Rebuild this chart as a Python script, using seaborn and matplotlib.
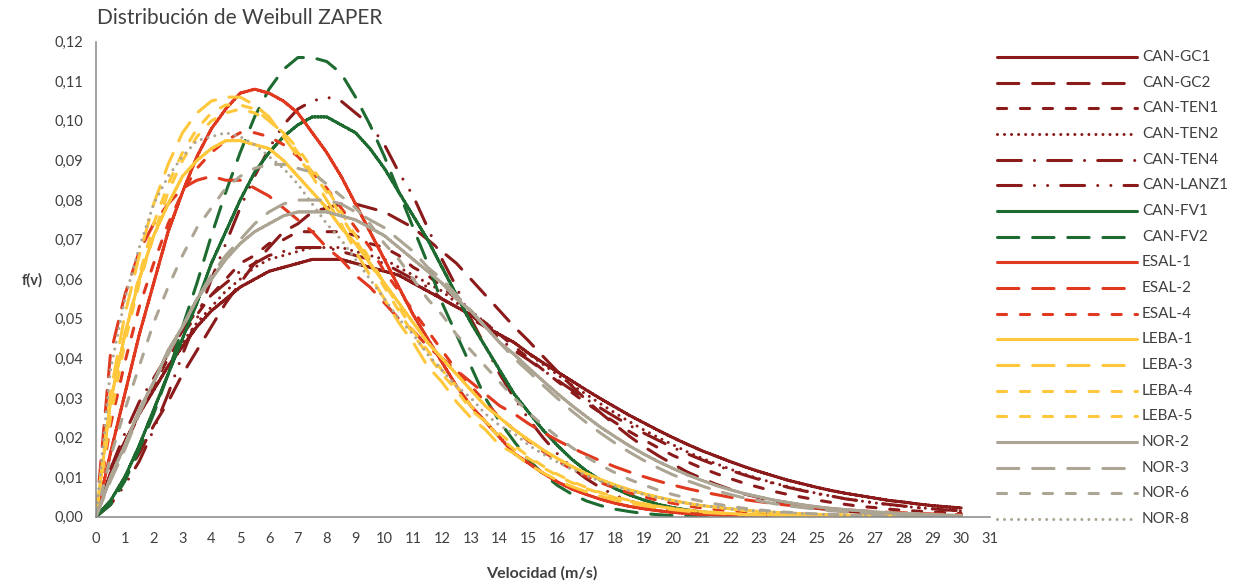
import numpy as np
import pandas as pd
import matplotlib
matplotlib.use("Agg")
import matplotlib.pyplot as plt
from matplotlib.lines import Line2D
import seaborn as sns

# Wind speed grid (m/s) and Weibull density per site, in ten-thousandths (f(v) * 10000)
speed = np.arange(0, 30.5, 0.5)

can_gc1 = [0, 110, 190, 260, 320, 380, 430, 480, 520, 550, 580, 600, 620, 630, 640, 650, 650, 650, 640, 630, 620, 610, 590, 570, 550, 530, 510, 480, 460, 440,
           413, 389, 366, 343, 320, 298, 277, 256, 237, 218, 200, 183, 167, 153, 139, 126, 114, 103, 92, 83, 74, 66, 59, 53, 47, 41, 37, 32, 28, 25, 22]
can_gc2 = [0, 40, 100, 160, 230, 290, 360, 420, 480, 540, 590, 640, 680, 720, 740, 770, 780, 790, 790, 780, 770, 750, 730, 700, 670, 640, 600, 560, 520, 480,
           444, 405, 367, 330, 295, 262, 232, 203, 177, 154, 133, 113, 97, 82, 69, 57, 48, 39, 32, 26, 21, 17, 14, 11, 9, 7, 5, 4, 3, 2, 2]
can_ten1 = [0, 100, 180, 260, 330, 400, 460, 510, 560, 600, 640, 660, 690, 700, 720, 720, 720, 720, 710, 690, 680, 660, 630, 610, 580, 550, 520, 490, 460, 430,
            400, 371, 342, 314, 287, 262, 238, 215, 194, 174, 155, 139, 123, 109, 96, 84, 74, 64, 56, 49, 42, 36, 31, 26, 23, 19, 16, 14, 12, 10, 8]
can_ten2 = [0, 100, 180, 260, 320, 380, 440, 490, 530, 570, 600, 630, 650, 660, 670, 680, 680, 680, 670, 660, 650, 630, 610, 590, 570, 540, 520, 490, 460, 440,
            411, 385, 359, 333, 309, 285, 262, 240, 219, 200, 182, 164, 148, 134, 120, 107, 96, 85, 76, 67, 59, 52, 45, 40, 35, 30, 26, 23, 20, 17, 14]
can_ten4 = [0, 120, 210, 290, 350, 410, 470, 520, 560, 590, 620, 640, 660, 670, 680, 680, 680, 670, 660, 650, 640, 620, 600, 580, 550, 530, 500, 480, 450, 420,
            396, 370, 345, 320, 297, 274, 252, 231, 211, 193, 175, 159, 144, 130, 117, 105, 94, 84, 74, 66, 58, 52, 45, 40, 35, 31, 27, 23, 20, 17, 15]
can_lanz1 = [0, 30, 80, 140, 220, 310, 410, 500, 600, 690, 780, 860, 930, 990, 1030, 1050, 1060, 1050, 1020, 990, 940, 870, 810, 730, 650, 580, 500, 430, 360, 300,
             247, 200, 159, 124, 96, 73, 54, 40, 29, 21, 14, 10, 7, 4, 3, 2, 1, 1, 0, 0, 0, 0, 0, 0, 0, 0, 0, 0, 0, 0, 0]
can_fv1 = [0, 40, 100, 180, 270, 360, 450, 540, 640, 720, 800, 870, 920, 960, 990, 1010, 1010, 990, 970, 930, 880, 820, 760, 700, 630, 560, 490, 430, 370, 310,
           264, 219, 180, 145, 116, 92, 71, 55, 42, 31, 23, 17, 12, 9, 6, 4, 3, 2, 1, 1, 1, 0, 0, 0, 0, 0, 0, 0, 0, 0, 0]
can_fv2 = [0, 30, 90, 170, 260, 360, 480, 590, 710, 820, 920, 1010, 1080, 1130, 1160, 1160, 1150, 1120, 1060, 990, 910, 820, 730, 640, 540, 460, 380, 300, 240, 190,
           144, 108, 79, 57, 40, 28, 19, 13, 8, 5, 3, 2, 1, 1, 0, 0, 0, 0, 0, 0, 0, 0, 0, 0, 0, 0, 0, 0, 0, 0, 0]
esal_1 = [0, 160, 310, 460, 590, 720, 820, 910, 980, 1030, 1070, 1080, 1070, 1050, 1020, 970, 920, 860, 790, 720, 650, 580, 510, 450, 390, 330, 280, 240, 200, 160,
          135, 110, 88, 70, 56, 44, 34, 26, 20, 15, 11, 8, 6, 5, 3, 2, 2, 1, 1, 1, 0, 0, 0, 0, 0, 0, 0, 0, 0, 0, 0]
esal_2 = [0, 410, 560, 670, 740, 790, 830, 850, 860, 850, 850, 830, 810, 780, 750, 720, 680, 650, 610, 580, 540, 500, 470, 430, 400, 370, 340, 310, 280, 260,
          235, 213, 193, 174, 157, 141, 126, 113, 101, 90, 80, 71, 63, 56, 49, 43, 38, 33, 29, 26, 22, 20, 17, 15, 13, 11, 10, 8, 7, 6, 5]
esal_4 = [0, 230, 390, 530, 640, 740, 820, 880, 920, 950, 970, 970, 960, 940, 910, 870, 830, 780, 730, 680, 620, 570, 520, 470, 420, 370, 330, 290, 250, 220,
          191, 165, 141, 120, 102, 86, 72, 60, 50, 41, 34, 27, 22, 18, 15, 12, 9, 7, 6, 5, 4, 3, 2, 2, 1, 1, 1, 1, 0, 0, 0]
leba_1 = [0, 290, 460, 600, 710, 790, 860, 900, 930, 950, 950, 940, 930, 900, 860, 820, 780, 730, 690, 640, 590, 540, 490, 440, 400, 360, 320, 280, 250, 220,
          194, 169, 147, 127, 109, 94, 80, 68, 58, 49, 41, 34, 28, 24, 20, 16, 13, 11, 9, 7, 6, 5, 4, 3, 2, 2, 2, 1, 1, 1, 1]
leba_3 = [0, 310, 510, 660, 790, 890, 970, 1020, 1050, 1060, 1060, 1040, 1010, 960, 910, 860, 800, 740, 670, 610, 550, 490, 440, 380, 340, 290, 250, 220, 180, 160,
          132, 111, 92, 76, 63, 52, 42, 34, 28, 22, 18, 14, 11, 9, 7, 5, 4, 3, 2, 2, 1, 1, 1, 1, 0, 0, 0, 0, 0, 0, 0]
leba_4 = [0, 250, 440, 590, 710, 820, 900, 960, 1000, 1020, 1030, 1020, 1000, 970, 930, 880, 830, 770, 710, 650, 590, 530, 470, 420, 370, 330, 280, 240, 210, 180,
          152, 128, 107, 89, 74, 61, 50, 41, 33, 26, 21, 17, 13, 11, 8, 6, 5, 4, 3, 2, 2, 1, 1, 1, 1, 0, 0, 0, 0, 0, 0]
leba_5 = [0, 270, 460, 610, 740, 840, 920, 980, 1020, 1040, 1040, 1030, 1000, 970, 920, 870, 820, 760, 700, 640, 580, 520, 460, 410, 360, 320, 270, 240, 200, 170,
          147, 124, 104, 86, 71, 59, 48, 39, 32, 26, 21, 16, 13, 10, 8, 6, 5, 4, 3, 2, 2, 1, 1, 1, 1, 0, 0, 0, 0, 0, 0]
nor_2 = [0, 100, 180, 270, 340, 420, 480, 550, 600, 650, 690, 720, 740, 760, 770, 770, 770, 760, 750, 730, 710, 680, 650, 620, 590, 550, 520, 480, 440, 410,
         376, 343, 311, 281, 253, 226, 202, 179, 158, 139, 122, 106, 92, 79, 68, 58, 50, 42, 36, 30, 25, 21, 18, 15, 12, 10, 8, 7, 5, 4, 3]
nor_3 = [0, 90, 170, 260, 340, 410, 480, 550, 610, 660, 700, 740, 770, 790, 800, 800, 800, 790, 770, 750, 730, 700, 670, 630, 600, 560, 520, 480, 440, 400,
         367, 332, 299, 267, 238, 211, 186, 163, 142, 123, 106, 91, 78, 66, 56, 47, 40, 33, 27, 23, 19, 15, 12, 10, 8, 7, 5, 4, 3, 3, 2]
nor_6 = [0, 150, 270, 380, 490, 580, 660, 730, 780, 830, 860, 880, 890, 890, 880, 870, 840, 810, 780, 740, 690, 650, 600, 550, 510, 460, 420, 380, 340, 300,
         263, 231, 202, 175, 151, 130, 111, 94, 80, 67, 56, 47, 39, 32, 26, 21, 17, 14, 11, 9, 7, 6, 4, 3, 3, 2, 2, 1, 1, 1, 1]
nor_8 = [0, 370, 550, 680, 790, 860, 910, 950, 960, 970, 960, 940, 910, 880, 840, 790, 740, 700, 650, 600, 550, 500, 460, 410, 370, 330, 300, 260, 230, 210,
         181, 158, 138, 120, 104, 89, 77, 66, 56, 48, 40, 34, 29, 24, 20, 17, 14, 12, 10, 8, 7, 5, 4, 4, 3, 2, 2, 2, 1, 1, 1]

series = ["CAN-GC1", "CAN-GC2", "CAN-TEN1", "CAN-TEN2", "CAN-TEN4", "CAN-LANZ1",
          "CAN-FV1", "CAN-FV2", "ESAL-1", "ESAL-2", "ESAL-4",
          "LEBA-1", "LEBA-3", "LEBA-4", "LEBA-5",
          "NOR-2", "NOR-3", "NOR-6", "NOR-8"]
values = [can_gc1, can_gc2, can_ten1, can_ten2, can_ten4, can_lanz1, can_fv1, can_fv2,
          esal_1, esal_2, esal_4, leba_1, leba_3, leba_4, leba_5, nor_2, nor_3, nor_6, nor_8]

yticks = [0.00, 0.01, 0.02, 0.03, 0.04, 0.05, 0.06, 0.07, 0.08, 0.09, 0.10, 0.11, 0.12]
ytick_labels = ["0,00", "0,01", "0,02", "0,03", "0,04", "0,05", "0,06",
                "0,07", "0,08", "0,09", "0,10", "0,11", "0,12"]
xticks = list(range(0, 32))

# Colours by region, line pattern by station (dash units are multiples of line width)
DR, GR, RD, YE, GY = "#8B1A1A", "#1D6B30", "#E0391F", "#FFC73B", "#ADA593"
colors = [DR, DR, DR, DR, DR, DR, GR, GR, RD, RD, RD, YE, YE, YE, YE, GY, GY, GY, GY]
SOLID, LONG, MED, DOT = (1, 0), (7, 4.5), (3, 4.5), (0.001, 2.3)
DDOT, DDDOT = (7.8, 4.3, 0.001, 4.3), (7.8, 4.3, 0.001, 4.3, 0.001, 4.3)
styles = [SOLID, LONG, MED, DOT, DDOT, DDDOT, SOLID, LONG, SOLID, LONG, MED,
          SOLID, LONG, MED, MED, SOLID, LONG, MED, DOT]

rows = []
for name, vals in zip(series, values):
    for s, val in zip(speed, vals):
        rows.append((name, s, val / 10000))
df = pd.DataFrame(rows, columns=["serie", "v", "f"])

sns.set_theme(style="white")
plt.rcParams["font.family"] = ["Lato", "DejaVu Sans"]
TXT = "#404040"
AX = "#868686"
W, H = 1234, 583

fig = plt.figure(figsize=(W / 100, H / 100), dpi=100)
ax = fig.add_axes([96 / W, 1 - 516.7 / H, (990 - 96) / W, 475 / H])

LW = 2.2
sns.lineplot(data=df, x="v", y="f", hue="serie", style="serie",
             palette=dict(zip(series, colors)), dashes=dict(zip(series, styles)),
             linewidth=LW, estimator=None, sort=False, legend=False, ax=ax)
for line in ax.lines:
    line.set_dash_capstyle("round")
    line.set_solid_capstyle("round")
    line.set_solid_joinstyle("round")

ax.set_xlim(0, 31)
ax.set_ylim(0, 0.12)
ax.set_xticks(xticks)
ax.set_xticklabels([str(t) for t in xticks])
ax.set_yticks(yticks)
ax.set_yticklabels(ytick_labels)
ax.set_xlabel("")
ax.set_ylabel("")
for side in ["top", "right"]:
    ax.spines[side].set_visible(False)
for side in ["left", "bottom"]:
    ax.spines[side].set_color(AX)
    ax.spines[side].set_linewidth(1.1)
ax.tick_params(axis="both", direction="out", length=5, width=1.1, color=AX,
               labelsize=10.5, labelcolor=TXT, pad=4)
ax.tick_params(axis="x", pad=6)

# Legend column on the right: one line sample and label per station
for i, (name, col, st) in enumerate(zip(series, colors, styles)):
    yc = 1 - (57 + i * 25.67) / H
    h = Line2D([997 / W, 1137 / W], [yc, yc], transform=fig.transFigure, color=col, lw=LW,
               dash_capstyle="round", solid_capstyle="round")
    if st != SOLID:
        h.set_dashes(st)
    fig.add_artist(h)
    fig.text(1142 / W, yc, name, fontsize=11, color=TXT, va="center", ha="left")

fig.text(97 / W, 1 - 18 / H, "Distribución de Weibull ZAPER", fontsize=15,
         color=TXT, va="center", ha="left")
fig.text(22 / W, 1 - 280 / H, "f(v)", fontsize=10.5, fontweight="bold",
         color=TXT, va="center", ha="left")
fig.text(542 / W, 1 - 573 / H, "Velocidad (m/s)", fontsize=11.5, fontweight="bold",
         color=TXT, va="center", ha="center")

fig.savefig("out.png", dpi=100)
